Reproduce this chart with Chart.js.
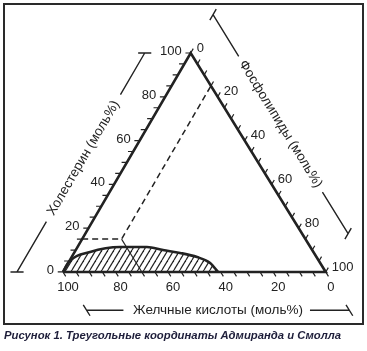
<!DOCTYPE html>
<html>
<head>
<meta charset="utf-8">
<script src="https://cdn.jsdelivr.net/npm/chart.js@4"></script>
<style>
  body { margin: 0; background: #fff; }
  #frame { position: absolute; left: 3px; top: 3px; width: 357px; height: 318px; border: 2px solid #2a2a2a; }
  #chart { position: absolute; left: 0; top: 0; }
  #caption { position: absolute; left: 4px; top: 329px; font: italic bold 11.3px "Liberation Sans", Arial, sans-serif; color: #1e1e3a; white-space: nowrap; }
</style>
</head>
<body>
<div id="frame"></div>
<canvas id="chart" width="367" height="351"></canvas>
<div id="caption">Рисунок 1. Треугольные координаты Адмиранда и Смолла</div>
<script>
// tick positions and labelled values on each side (mol %)
const tickValues = [0, 5, 10, 15, 20, 25, 30, 35, 40, 45, 50, 55, 60, 65, 70, 75, 80, 85, 90, 95, 100];
const tickLabels = [0, 20, 40, 60, 80, 100];

// micellar zone boundary
const zoneBileAcid = [100, 95.4, 85, 72.4, 62.2, 56.8, 51, 45.5, 41.9, 41];
const zoneCholesterol = [0, 4.6, 9.1, 11.4, 11.4, 10, 8.7, 6.8, 4.1, 0];

// composition marked with the dashed guide lines
const markCholesterol = 15;
const markPhospholipid = 15;

const axisTitles = ["Желчные кислоты (моль%)", "Холестерин (моль%)", "Фосфолипиды (моль%)"];

const SKEW = 0.486; // apex sits a little left of centre in the original
const OFF = 17.5;   // distance of the outer scale lines
const TL = 2;       // tick length, in mol %
const BREAK = { x: NaN, y: null };

// ternary (cholesterol, phospholipid) -> chart coordinates
function point(chol, phos) {
  return { x: phos + chol * SKEW, y: chol };
}

const triangle = [point(0, 0), point(100, 0), point(0, 100), point(0, 0)];

const leftTicks = [];
const rightTicks = [];
const bottomTicks = [];
tickValues.forEach((v) => {
  leftTicks.push(point(v, 0), point(v, -TL), BREAK);
  rightTicks.push(point(100 - v, v), point(100 - v + TL, v), BREAK);
  bottomTicks.push(point(0, 100 - v), point(-TL, 100 - v + TL), BREAK);
});

// outer scale lines with end caps, broken where the title sits
const leftScale = [
  point(0, -OFF - 2.5), point(0, -OFF + 2.5), BREAK,
  point(0, -OFF), point(23, -OFF), BREAK,
  point(81, -OFF), point(100, -OFF), BREAK,
  point(100, -OFF - 2.5), point(100, -OFF + 2.5),
];
const rightScale = [
  point(100 + OFF - 2.5, 0), point(100 + OFF + 2.5, 0), BREAK,
  point(100 + OFF, 0), point(100 + OFF - 19, 19), BREAK,
  point(100 + OFF - 81, 81), point(OFF, 100), BREAK,
  point(OFF - 2.5, 100), point(OFF + 2.5, 100),
];
const bottomScale = [
  point(-OFF + 2.5, OFF - 2.5), point(-OFF - 2.5, OFF + 2.5), BREAK,
  point(-OFF, OFF), point(-OFF, OFF + 14), BREAK,
  point(-OFF, OFF + 85), point(-OFF, OFF + 100), BREAK,
  point(-OFF + 2.5, OFF + 100 - 2.5), point(-OFF - 2.5, OFF + 100 + 2.5),
];

const zone = zoneBileAcid.map((b, i) => point(zoneCholesterol[i], 100 - b - zoneCholesterol[i]));

const dashed = [
  point(markCholesterol, 0),
  point(markCholesterol, markPhospholipid),
  point(100 - markPhospholipid, markPhospholipid),
];
const solidGuide = [
  point(markCholesterol, markPhospholipid),
  point(0, markCholesterol + markPhospholipid),
];

const canvas = document.getElementById("chart");

function hatchPattern() {
  const tile = document.createElement("canvas");
  tile.width = 6;
  tile.height = 10;
  const c = tile.getContext("2d");
  c.strokeStyle = "#222";
  c.lineWidth = 1.2;
  [-6, 0, 6].forEach((dx) => {
    c.beginPath();
    c.moveTo(dx, 10);
    c.lineTo(dx + 6, 0);
    c.stroke();
  });
  return canvas.getContext("2d").createPattern(tile, "repeat");
}

function line(data, width, extra = {}) {
  return Object.assign({
    data: data,
    showLine: true,
    borderColor: "#222",
    borderWidth: width,
    pointRadius: 0,
    fill: false,
    tension: 0,
    spanGaps: false,
  }, extra);
}

const ternaryText = {
  id: "ternaryText",
  afterDatasetsDraw(chart) {
    const { ctx } = chart;
    const sx = chart.scales.x;
    const sy = chart.scales.y;
    const px = (p) => ({ x: sx.getPixelForValue(p.x), y: sy.getPixelForValue(p.y) });

    ctx.save();
    ctx.fillStyle = "#222";
    ctx.font = '13px "Liberation Sans", Arial, sans-serif';
    ctx.textBaseline = "middle";
    tickLabels.forEach((v) => {
      let a = px(point(v, 0));
      ctx.textAlign = "right";
      ctx.fillText(String(v), a.x - 9, a.y - 1.5);

      a = px(point(100 - v, v));
      ctx.textAlign = "left";
      ctx.fillText(String(v), a.x + 6, a.y - 5);

      a = px(point(0, 100 - v));
      ctx.textAlign = "center";
      ctx.fillText(String(v), a.x + 5, a.y + 15);
    });

    // axis titles, centred on the outer scale lines
    ctx.font = '13.5px "Liberation Sans", Arial, sans-serif';
    ctx.textAlign = "center";
    const titleAt = (text, p, from, to) => {
      const c = px(p);
      const a = px(from);
      const b = px(to);
      ctx.save();
      ctx.translate(c.x, c.y);
      ctx.rotate(Math.atan2(b.y - a.y, b.x - a.x));
      ctx.fillText(text, 0, 0);
      ctx.restore();
    };
    titleAt(axisTitles[0], point(-OFF, OFF + 50), point(-OFF, 0), point(-OFF, 100));
    titleAt(axisTitles[1], point(52, -OFF), point(0, -OFF), point(100, -OFF));
    titleAt(axisTitles[2], point(100 + OFF - 50, 50), point(100 + OFF, 0), point(OFF, 100));
    ctx.restore();
  },
};

new Chart(canvas, {
  type: "scatter",
  data: {
    datasets: [
      line(triangle, 2.6),
      line(leftTicks, 1.2),
      line(rightTicks, 1.2),
      line(bottomTicks, 1.2),
      line(leftScale, 1.4),
      line(rightScale, 1.4),
      line(bottomScale, 1.4),
      line(dashed, 1.5, { borderDash: [6, 4] }),
      line(solidGuide, 1.1),
      line(zone, 2.6, { fill: "origin", backgroundColor: hatchPattern(), cubicInterpolationMode: "monotone" }),
    ],
  },
  options: {
    responsive: false,
    animation: false,
    events: [],
    layout: { padding: 0 },
    plugins: { legend: { display: false }, tooltip: { enabled: false } },
    scales: {
      x: { type: "linear", display: false, min: -23.98, max: 115.7 },
      y: { type: "linear", display: false, min: -36.1, max: 124.2 },
    },
  },
  plugins: [ternaryText],
});
</script>
</body>
</html>
